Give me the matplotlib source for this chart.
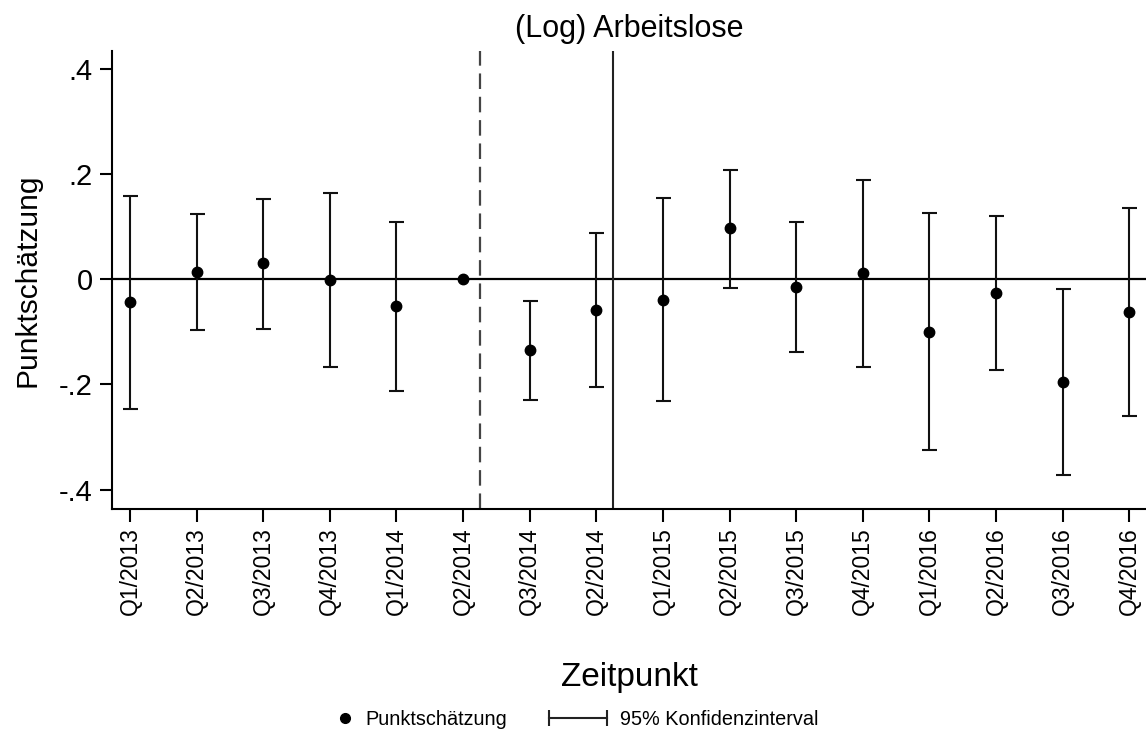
import matplotlib.pyplot as plt
from matplotlib.lines import Line2D
from matplotlib.legend_handler import HandlerLine2D
import numpy as np

plt.rcParams["font.family"] = ["Liberation Sans", "DejaVu Sans"]

labels = ["Q1/2013", "Q2/2013", "Q3/2013", "Q4/2013", "Q1/2014", "Q2/2014",
          "Q3/2014", "Q2/2014", "Q1/2015", "Q2/2015", "Q3/2015", "Q4/2015",
          "Q1/2016", "Q2/2016", "Q3/2016", "Q4/2016"]
est = [-0.044, 0.014, 0.030, -0.002, -0.051, 0.0, -0.135, -0.058,
       -0.040, 0.097, -0.015, 0.011, -0.100, -0.026, -0.196, -0.062]
ci_hi = [0.157, 0.123, 0.152, 0.163, 0.108, 0.0, -0.041, 0.087,
         0.154, 0.208, 0.109, 0.189, 0.126, 0.119, -0.018, 0.136]
ci_lo = [-0.246, -0.096, -0.094, -0.168, -0.213, 0.0, -0.229, -0.205,
         -0.232, -0.017, -0.139, -0.167, -0.324, -0.173, -0.372, -0.261]
yticks = [-0.4, -0.2, 0, 0.2, 0.4]
ytick_labels = ["-.4", "-.2", "0", ".2", ".4"]
dashed_at = 5.25
solid_at = 7.25


class DotHandler(HandlerLine2D):
    # single marker placed close to the text instead of centred
    def get_xdata(self, legend, xdescent, ydescent, width, height, fontsize):
        xm = -xdescent + width - 0.66 * fontsize
        return [xm, xm], [xm]


x = np.arange(len(labels))
est = np.array(est)
hi = np.array(ci_hi)
lo = np.array(ci_lo)

fig = plt.figure(figsize=(11.46, 7.31), dpi=100)
ax = fig.add_axes([0.0977, 0.3037, 0.9023, 0.6269])

ax.axhline(0, color="black", lw=1.6, zorder=1)
ax.axvline(dashed_at, color="#444444", lw=1.6, linestyle=(0, (7, 3.5)), zorder=1)
ax.axvline(solid_at, color="#222222", lw=1.5, zorder=1)

has_ci = hi - lo > 0
ax.errorbar(x[has_ci], est[has_ci], yerr=[est[has_ci] - lo[has_ci], hi[has_ci] - est[has_ci]],
            fmt="none", ecolor="#111111", elinewidth=1.5, capsize=5.4, capthick=1.5, zorder=2)
ax.plot(x, est, "o", color="black", markersize=7.5, zorder=3)

ax.set_xlim(-0.27, 15.25)
ax.set_ylim(-0.437, 0.434)
ax.set_xticks(x)
ax.set_xticklabels(labels, rotation=90, fontsize=16.5)
ax.set_yticks(yticks)
ax.set_yticklabels(ytick_labels, fontsize=21)
ax.tick_params(axis="x", length=9, width=1.5, pad=4)
ax.tick_params(axis="y", length=9, width=1.5, pad=5)
for s in ["top", "right"]:
    ax.spines[s].set_visible(False)
for s in ["left", "bottom"]:
    ax.spines[s].set_linewidth(1.5)

ax.set_title("(Log) Arbeitslose", fontsize=22, pad=10)
ax.set_ylabel("Punktschätzung", fontsize=21.5, labelpad=12)
ax.set_xlabel("Zeitpunkt", fontsize=24, labelpad=34)

h_dot = Line2D([], [], color="black", marker="o", linestyle="none", markersize=7)
h_ci = Line2D([], [], color="#222222", marker="|", markersize=11, markeredgewidth=1.5, lw=1.5)
fig.legend([h_dot, h_ci], ["Punktschätzung", "95% Konfidenzinterval"],
           handler_map={h_dot: DotHandler(numpoints=1), h_ci: HandlerLine2D(numpoints=2)},
           loc="lower center", bbox_to_anchor=(0.483, -0.022), ncol=2, frameon=False,
           fontsize=14.3, handlelength=3.5, columnspacing=1.8, handletextpad=0.37)

fig.savefig("out.png", dpi=100)
